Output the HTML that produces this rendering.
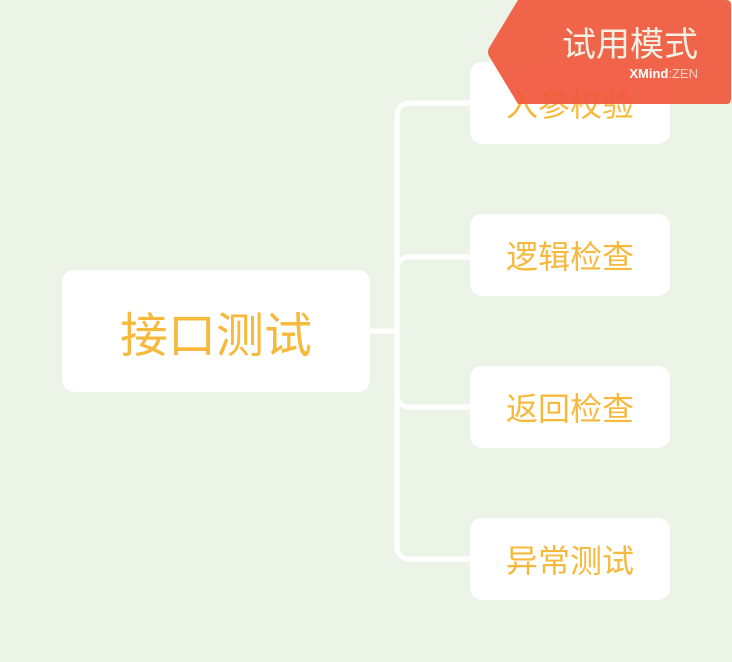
<!DOCTYPE html>
<html><head><meta charset="utf-8"><style>
body{margin:0;width:732px;height:662px;background:#ecf4e8;position:relative;overflow:hidden;font-family:"Liberation Sans","Noto Sans CJK SC",sans-serif}
.n{position:absolute;background:#fff;border-radius:12px;color:#f6b93b;display:flex;align-items:center;justify-content:center}
.c{font-size:32px}
</style></head><body>
<svg width="732" height="662" style="position:absolute;left:0;top:0">
<g fill="none" stroke="#fff" stroke-width="5">
<line x1="368" y1="331" x2="397" y2="331"/>
<path d="M472 103 H411 Q397 103 397 117 V545 Q397 559 411 559 H472"/>
<path d="M472 257 H411 Q397 257 397 271 V393 Q397 407 411 407 H472"/>
</g>
</svg>
<div class="n" style="left:62px;top:270px;width:308px;height:122px;font-size:48px">接口测试</div>
<div class="n c" style="left:470px;top:62px;width:200px;height:82px">入参校验</div>
<div class="n c" style="left:470px;top:214px;width:200px;height:82px">逻辑检查</div>
<div class="n c" style="left:470px;top:366px;width:200px;height:82px">返回检查</div>
<div class="n c" style="left:470px;top:518px;width:200px;height:82px">异常测试</div>
<svg width="732" height="662" style="position:absolute;left:0;top:0">
<path d="M518 0 H726 Q731 0 731 5 V99 Q731 104 726 104 H518 L489 56 Q487 52 489 48 Z" fill="#f0573c" fill-opacity="0.92"/>
<text x="698" y="56" text-anchor="end" font-size="34" fill="#f3f0e4" font-family="Liberation Sans,Noto Sans CJK SC,sans-serif">试用模式</text>
<text x="698" y="78" text-anchor="end" font-size="13" fill="#fff" font-family="Liberation Sans,sans-serif"><tspan font-weight="bold">XMind</tspan><tspan fill="#fbd0c5">:ZEN</tspan></text>
</svg>
</body></html>
